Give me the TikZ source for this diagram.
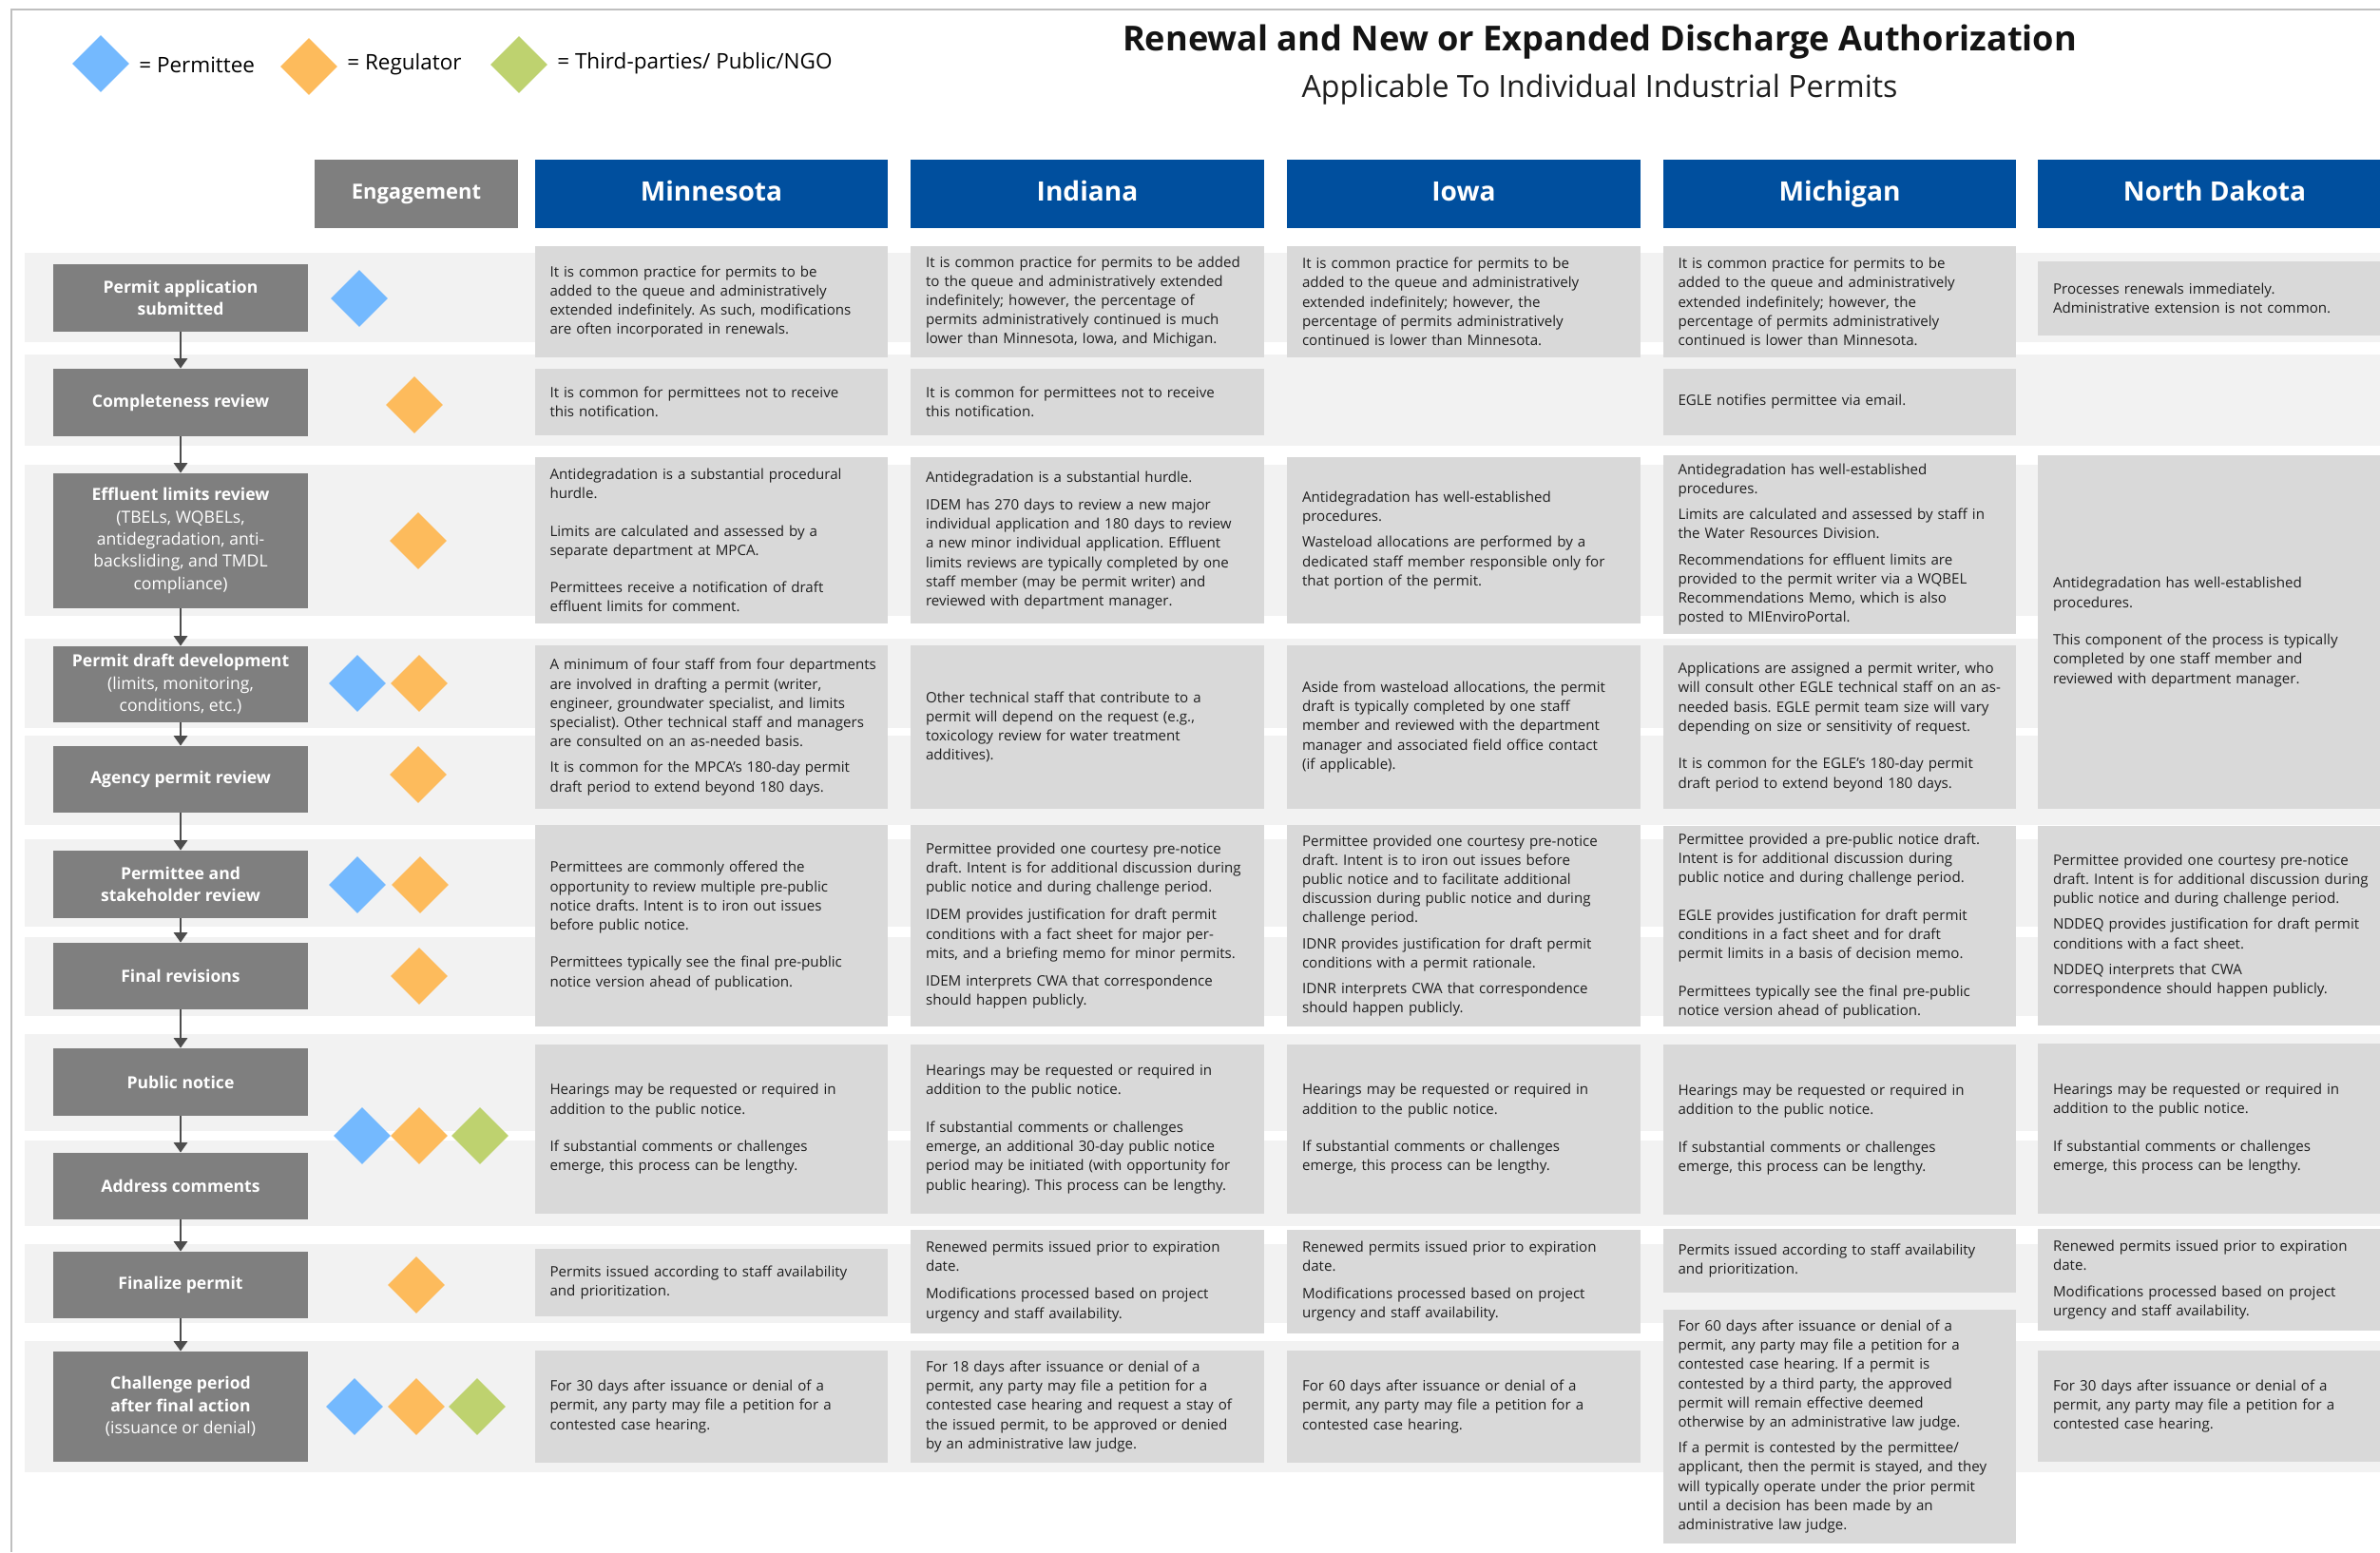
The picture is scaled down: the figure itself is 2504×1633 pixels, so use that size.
\documentclass[tikz,border=0pt]{standalone}
\usepackage{fontspec}
\setmainfont{Open Sans}
\usepackage{xcolor}
\usetikzlibrary{arrows.meta,shapes.geometric}
\frenchspacing
\hyphenpenalty=10000

\definecolor{headblue}{HTML}{004F9E}
\definecolor{stepgray}{HTML}{7F7F7F}
\definecolor{cellgray}{HTML}{D9D9D9}
\definecolor{bandgray}{HTML}{F2F2F2}
\definecolor{arrowgray}{HTML}{4D4D4D}
\definecolor{framegray}{HTML}{BFBFBF}
\definecolor{permblue}{HTML}{74B9FE}
\definecolor{regorange}{HTML}{FDBB5C}
\definecolor{ngogreen}{HTML}{BED26F}

\tikzset{
  boxh/.style={minimum height=#1*0.02cm},
  band/.style={fill=bandgray},
  stepbox/.style={fill=stepgray, text=white, minimum width=5.36cm, inner sep=0pt,
    align=center, font=\fontsize{10}{13.3}\selectfont},
  cell/.style={fill=cellgray, text=black!88, text width=6.8cm, inner xsep=0.32cm,
    inner ysep=0pt, align=left, font=\fontsize{8.6}{11.5}\selectfont},
  statehead/.style={fill=headblue, text=white, minimum width=7.44cm, minimum height=1.44cm,
    inner sep=0pt, text height=11.5pt, text depth=3.5pt, font=\bfseries\fontsize{16}{19}\selectfont},
  enghead/.style={fill=stepgray, text=white, minimum width=4.28cm, minimum height=1.44cm,
    inner sep=0pt, text height=9pt, text depth=3pt, font=\bfseries\fontsize{12.5}{15}\selectfont},
  gem/.style={diamond, minimum width=1.2cm, minimum height=1.2cm, inner sep=0pt},
  dperm/.style={gem, fill=permblue},
  dreg/.style={gem, fill=regorange},
  dngo/.style={gem, fill=ngogreen},
  legtext/.style={anchor=west, inner sep=0pt, font=\fontsize{12.8}{15}\selectfont},
  flowarrow/.style={draw=arrowgray, line width=1.6pt, -{Triangle[width=8pt,length=6pt]}}
}

\begin{document}
\begin{tikzpicture}[x=0.02cm, y=-0.02cm]
  \useasboundingbox (0,0) rectangle (2504,1633);
  \fill[white] (0,0) rectangle (2504,1633);
  \draw[framegray, line width=1.2pt] (12,1633) -- (12,10) -- (2504,10);

  % legend and title
  \node[dperm] (lgperm) at (106,67) {};
  \node[legtext] (lgpermt) at (146,68) {= Permittee};
  \node[dreg] (lgreg) at (325,70) {};
  \node[legtext] (lgregt) at (365,68) {= Regulator};
  \node[dngo] (lgngo) at (546,68) {};
  \node[legtext] (lgngot) at (586,67) {= Third-parties/ Public/NGO};
  \node[font=\bfseries\fontsize{20.6}{25}\selectfont, text=black!92] (title) at (1683,44)
    {Renewal and New or Expanded Discharge Authorization};
  \node[font=\fontsize{18.3}{22}\selectfont, text=black!88] (subtitle) at (1683,94)
    {Applicable To Individual Industrial Permits};

  % headers
  \node[enghead] (heng) at (438,204) {Engagement};
  \node[statehead] (hmn) at (748.5,204) {Minnesota};
  \node[statehead] (hin) at (1144,204) {Indiana};
  \node[statehead] (hio) at (1540,204) {Iowa};
  \node[statehead] (hmi) at (1935.5,204) {Michigan};
  \node[statehead] (hnd) at (2330,204) {North Dakota};

  % row bands
  \foreach \t/\b in {266/360, 373/469, 489/648, 672/766, 774/868, 883/975,
                     986/1069, 1088/1190, 1200/1290, 1309/1392, 1411/1549}
    \fill[band] (26,\t) rectangle (2504,\b);

  % process steps
  \node[stepbox, boxh=71] (s1) at (190,313.5) {\textbf{Permit application}\\\textbf{submitted}};
  \node[stepbox, boxh=71] (s2) at (190,423.5) {\textbf{Completeness review}};
  \node[stepbox, boxh=142] (s3) at (190,569) {\textbf{Effluent limits review}\\(TBELs, WQBELs,\\antidegradation, anti-\\backsliding, and TMDL\\compliance)};
  \node[stepbox, boxh=80] (s4) at (190,720) {\textbf{Permit draft development}\\(limits, monitoring,\\conditions, etc.)};
  \node[stepbox, boxh=70] (s5) at (190,820) {\textbf{Agency permit review}};
  \node[stepbox, boxh=71] (s6) at (190,930.5) {\textbf{Permittee and}\\\textbf{stakeholder review}};
  \node[stepbox, boxh=70] (s7) at (190,1027) {\textbf{Final revisions}};
  \node[stepbox, boxh=71] (s8) at (190,1138.5) {\textbf{Public notice}};
  \node[stepbox, boxh=70] (s9) at (190,1248) {\textbf{Address comments}};
  \node[stepbox, boxh=70] (s10) at (190,1352) {\textbf{Finalize permit}};
  \node[stepbox, boxh=116] (s11) at (190,1480) {\textbf{Challenge period}\\\textbf{after final action}\\(issuance or denial)};

  \foreach \a/\b in {s1/s2, s2/s3, s3/s4, s4/s5, s5/s6, s6/s7, s7/s8, s8/s9, s9/s10, s10/s11}
    \draw[flowarrow] (\a) -- (\b);

  % engagement
  \node[dperm] (e1a) at (378,314) {};
  \node[dreg] (e2b) at (436,426) {};
  \node[dreg] (e3b) at (440,569) {};
  \node[dperm] (e4a) at (376,719) {};
  \node[dreg] (e4b) at (441,719) {};
  \node[dreg] (e5b) at (440,815) {};
  \node[dperm] (e6a) at (376,931) {};
  \node[dreg] (e6b) at (442,931) {};
  \node[dreg] (e7b) at (441,1027) {};
  \node[dperm] (e8a) at (381,1195) {};
  \node[dreg] (e8b) at (441,1195) {};
  \node[dngo] (e8c) at (505,1195) {};
  \node[dreg] (e10b) at (438,1352) {};
  \node[dperm] (e11a) at (373,1480) {};
  \node[dreg] (e11b) at (438,1480) {};
  \node[dngo] (e11c) at (502,1480) {};

  % Minnesota
  \node[cell, boxh=117] (mn1) at (748.5,317.5) {It is common practice for permits to be\\added to the queue and administratively\\extended indefinitely. As such, modifications\\are often incorporated in renewals.};
  \node[cell, boxh=70] (mn2) at (748.5,423) {It is common for permittees not to receive\\this notification.};
  \node[cell, boxh=175] (mn3) at (748.5,568.5) {Antidegradation is a substantial procedural\\hurdle.\\[11pt]Limits are calculated and assessed by a\\separate department at MPCA.\\[11pt]Permittees receive a notification of draft\\effluent limits for comment.};
  \node[cell, boxh=172] (mn4) at (748.5,765) {\mbox{A minimum of four staff from four departments}\\are involved in drafting a permit (writer,\\engineer, groundwater specialist, and limits\\specialist). Other technical staff and managers\\are consulted on an as-needed basis.\\[4pt]It is common for the MPCA's 180-day permit\\draft period to extend beyond 180 days.};
  \node[cell, boxh=212] (mn5) at (748.5,974) {Permittees are commonly offered the\\opportunity to review multiple pre-public\\notice drafts. Intent is to iron out issues\\before public notice.\\[11pt]Permittees typically see the final pre-public\\notice version ahead of publication.};
  \node[cell, boxh=178] (mn6) at (748.5,1188) {Hearings may be requested or required in\\addition to the public notice.\\[11pt]If substantial comments or challenges\\emerge, this process can be lengthy.};
  \node[cell, boxh=71] (mn7) at (748.5,1349.5) {Permits issued according to staff availability\\and prioritization.};
  \node[cell, boxh=118] (mn8) at (748.5,1480) {For 30 days after issuance or denial of a\\permit, any party may file a petition for a\\contested case hearing.};

  % Indiana
  \node[cell, boxh=117] (in1) at (1144,317.5) {It is common practice for permits to be added\\to the queue and administratively extended\\indefinitely; however, the percentage of\\permits administratively continued is much\\lower than Minnesota, Iowa, and Michigan.};
  \node[cell, boxh=70] (in2) at (1144,423) {It is common for permittees not to receive\\this notification.};
  \node[cell, boxh=175] (in3) at (1144,568.5) {Antidegradation is a substantial hurdle.\\[5pt]IDEM has 270 days to review a new major\\individual application and 180 days to review\\a new minor individual application. Effluent\\limits reviews are typically completed by one\\staff member (may be permit writer) and\\reviewed with department manager.};
  \node[cell, boxh=172] (in4) at (1144,765) {Other technical staff that contribute to a\\permit will depend on the request (e.g.,\\toxicology review for water treatment\\additives).};
  \node[cell, boxh=212] (in5) at (1144,974) {Permittee provided one courtesy pre-notice\\draft. Intent is for additional discussion during\\public notice and during challenge period.\\[5pt]IDEM provides justification for draft permit\\conditions with a fact sheet for major per-\\mits, and a briefing memo for minor permits.\\[5pt]IDEM interprets CWA that correspondence\\should happen publicly.};
  \node[cell, boxh=178] (in6) at (1144,1188) {Hearings may be requested or required in\\addition to the public notice.\\[11pt]If substantial comments or challenges\\emerge, an additional 30-day public notice\\period may be initiated (with opportunity for\\public hearing). This process can be lengthy.};
  \node[cell, boxh=109] (in7) at (1144,1348.5) {Renewed permits issued prior to expiration\\date.\\[5pt]Modifications processed based on project\\urgency and staff availability.};
  \node[cell, boxh=118] (in8) at (1144,1480) {For 18 days after issuance or denial of a\\permit, any party may file a petition for a\\contested case hearing and request a stay of\\the issued permit, to be approved or denied\\by an administrative law judge.};

  % Iowa
  \node[cell, boxh=117] (io1) at (1540,317.5) {It is common practice for permits to be\\added to the queue and administratively\\extended indefinitely; however, the\\percentage of permits administratively\\continued is lower than Minnesota.};
  \node[cell, boxh=175] (io3) at (1540,568.5) {Antidegradation has well-established\\procedures.\\[4pt]Wasteload allocations are performed by a\\dedicated staff member responsible only for\\that portion of the permit.};
  \node[cell, boxh=172] (io4) at (1540,765) {Aside from wasteload allocations, the permit\\draft is typically completed by one staff\\member and reviewed with the department\\manager and associated field office contact\\(if applicable).};
  \node[cell, boxh=212] (io5) at (1540,974) {Permittee provided one courtesy pre-notice\\draft. Intent is to iron out issues before\\public notice and to facilitate additional\\discussion during public notice and during\\challenge period.\\[4pt]IDNR provides justification for draft permit\\conditions with a permit rationale.\\[4pt]IDNR interprets CWA that correspondence\\should happen publicly.};
  \node[cell, boxh=178] (io6) at (1540,1188) {Hearings may be requested or required in\\addition to the public notice.\\[11pt]If substantial comments or challenges\\emerge, this process can be lengthy.};
  \node[cell, boxh=109] (io7) at (1540,1348) {Renewed permits issued prior to expiration\\date.\\[5pt]Modifications processed based on project\\urgency and staff availability.};
  \node[cell, boxh=118] (io8) at (1540,1480) {For 60 days after issuance or denial of a\\permit, any party may file a petition for a\\contested case hearing.};

  % Michigan
  \node[cell, boxh=117] (mi1) at (1935.5,317.5) {It is common practice for permits to be\\added to the queue and administratively\\extended indefinitely; however, the\\percentage of permits administratively\\continued is lower than Minnesota.};
  \node[cell, boxh=70] (mi2) at (1935.5,423) {EGLE notifies permittee via email.};
  \node[cell, boxh=188] (mi3) at (1935.5,573) {Antidegradation has well-established\\procedures.\\[4pt]Limits are calculated and assessed by staff in\\the Water Resources Division.\\[4pt]Recommendations for effluent limits are\\provided to the permit writer via a WQBEL\\Recommendations Memo, which is also\\posted to MIEnviroPortal.};
  \node[cell, boxh=172] (mi4) at (1935.5,765) {Applications are assigned a permit writer, who\\will consult other EGLE technical staff on an as-\\needed basis. EGLE permit team size will vary\\depending on size or sensitivity of request.\\[11pt]It is common for the EGLE's 180-day permit\\draft period to extend beyond 180 days.};
  \node[cell, boxh=211] (mi5) at (1935.5,974.5) {Permittee provided a pre-public notice draft.\\Intent is for additional discussion during\\public notice and during challenge period.\\[11pt]EGLE provides justification for draft permit\\conditions in a fact sheet and for draft\\permit limits in a basis of decision memo.\\[11pt]Permittees typically see the final pre-public\\notice version ahead of publication.};
  \node[cell, boxh=179] (mi6) at (1935.5,1188.5) {Hearings may be requested or required in\\addition to the public notice.\\[11pt]If substantial comments or challenges\\emerge, this process can be lengthy.};
  \node[cell, boxh=67] (mi7) at (1935.5,1326.5) {Permits issued according to staff availability\\and prioritization.};
  \node[cell, boxh=246] (mi8) at (1935.5,1501) {For 60 days after issuance or denial of a\\permit, any party may file a petition for a\\contested case hearing. If a permit is\\contested by a third party, the approved\\permit will remain effective deemed\\otherwise by an administrative law judge.\\[4pt]If a permit is contested by the permittee/\\applicant, then the permit is stayed, and they\\will typically operate under the prior permit\\until a decision has been made by an\\administrative law judge.};

  % North Dakota
  \node[cell, boxh=78] (nd1) at (2330,314) {Processes renewals immediately.\\Administrative extension is not common.};
  \node[cell, boxh=372] (nd3) at (2330,665) {Antidegradation has well-established\\procedures.\\[11pt]This component of the process is typically\\completed by one staff member and\\reviewed with department manager.};
  \node[cell, boxh=210] (nd5) at (2330,974) {Permittee provided one courtesy pre-notice\\draft. Intent is for additional discussion during\\public notice and during challenge period.\\[4pt]NDDEQ provides justification for draft permit\\conditions with a fact sheet.\\[4pt]NDDEQ interprets that CWA\\correspondence should happen publicly.};
  \node[cell, boxh=179] (nd6) at (2330,1187.5) {Hearings may be requested or required in\\addition to the public notice.\\[11pt]If substantial comments or challenges\\emerge, this process can be lengthy.};
  \node[cell, boxh=107] (nd7) at (2330,1346.5) {Renewed permits issued prior to expiration\\date.\\[4pt]Modifications processed based on project\\urgency and staff availability.};
  \node[cell, boxh=117] (nd8) at (2330,1479.5) {For 30 days after issuance or denial of a\\permit, any party may file a petition for a\\contested case hearing.};
\end{tikzpicture}
\end{document}
